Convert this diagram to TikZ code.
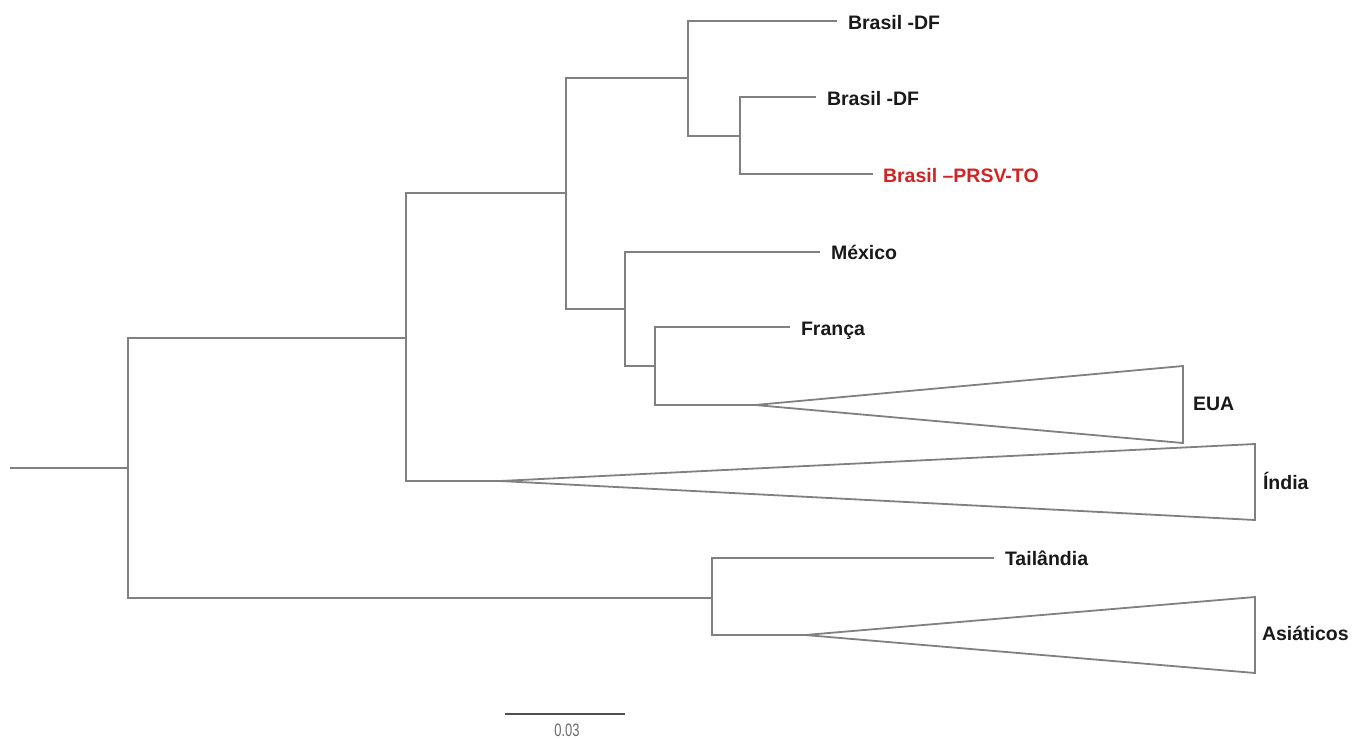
\documentclass[tikz,border=0pt]{standalone}
\usepackage{fontspec}
\setmainfont{Liberation Sans}
\newfontfamily\barfont[FakeStretch=0.72]{Liberation Sans}
\definecolor{branch}{RGB}{128,128,128}
\definecolor{bartone}{RGB}{80,80,80}
\definecolor{bartext}{RGB}{105,105,105}
\definecolor{labtxt}{RGB}{25,25,25}
\definecolor{hilite}{RGB}{210,35,35}
\tikzset{
  branchline/.style={draw=branch, line width=1.8pt, line join=miter},
  lab/.style={anchor=base west, inner sep=0pt, outer sep=0pt, text=labtxt,
     font=\fontsize{19.5pt}{22pt}\selectfont\bfseries},
  redlab/.style={lab, text=hilite},
}
\begin{document}
\begin{tikzpicture}[x=1pt,y=-1pt]
\useasboundingbox (0,0) rectangle (1356,739);
% internal nodes
\coordinate (r0) at (10,468);
\coordinate (nA) at (128,468);
\coordinate (nB) at (406,338);
\coordinate (nC) at (566,193);
\coordinate (nD) at (688,78);
\coordinate (nE) at (740,136);
\coordinate (nF) at (625,309);
\coordinate (nG) at (655,366);
\coordinate (nH) at (712,598);
% leaves
\coordinate (c1) at (837,21);
\coordinate (c2) at (816,97);
\coordinate (c3) at (873,174);
\coordinate (cMex) at (820,252);
\coordinate (cFra) at (790,327);
\coordinate (cTai) at (994,558);
% collapsed clades
\coordinate (euaA) at (755,405);
\coordinate (euaT) at (1183,366);
\coordinate (euaB) at (1183,443);
\coordinate (indA) at (500,481);
\coordinate (indT) at (1255,444);
\coordinate (indB) at (1255,520);
\coordinate (asiA) at (805,635);
\coordinate (asiT) at (1255,597);
\coordinate (asiB) at (1255,673);
% labels
\node[lab] (t1) at (848,29) {Brasil -DF};
\node[lab] (t2) at (827,105) {Brasil -DF};
\node[redlab] (t3) at (883,182) {Brasil –PRSV-TO};
\node[lab] (tMex) at (831,259) {México};
\node[lab] (tFra) at (801,335) {França};
\node[lab] (tEua) at (1193,410) {EUA};
\node[lab] (tInd) at (1263,489) {Índia};
\node[lab] (tTai) at (1005,565) {Tailândia};
\node[lab] (tAsi) at (1262,640) {Asiáticos};
% branches
\draw[branchline] (r0) -- (nA);
\draw[branchline] (nA) |- (nB);
\draw[branchline] (nA) |- (nH);
\draw[branchline] (nB) |- (nC);
\draw[branchline] (nB) |- (indA);
\draw[branchline] (nC) |- (nD);
\draw[branchline] (nC) |- (nF);
\draw[branchline] (nD) |- (c1);
\draw[branchline] (nD) |- (nE);
\draw[branchline] (nE) |- (c2);
\draw[branchline] (nE) |- (c3);
\draw[branchline] (nF) |- (cMex);
\draw[branchline] (nF) |- (nG);
\draw[branchline] (nG) |- (cFra);
\draw[branchline] (nG) |- (euaA);
\draw[branchline] (nH) |- (cTai);
\draw[branchline] (nH) |- (asiA);
% triangles
\draw[branchline] (euaA) -- (euaT) -- (euaB) -- cycle;
\draw[branchline] (indA) -- (indT) -- (indB) -- cycle;
\draw[branchline] (asiA) -- (asiT) -- (asiB) -- cycle;
% scale bar
\coordinate (sb1) at (505,714);
\coordinate (sb2) at (625,714);
\draw[draw=bartone, line width=2.6pt] (sb1) -- (sb2);
\node[inner sep=0pt, text=bartext, font=\barfont\fontsize{18pt}{19pt}\selectfont] (sbl) at (567,730) {0.03};
\end{tikzpicture}
\end{document}
